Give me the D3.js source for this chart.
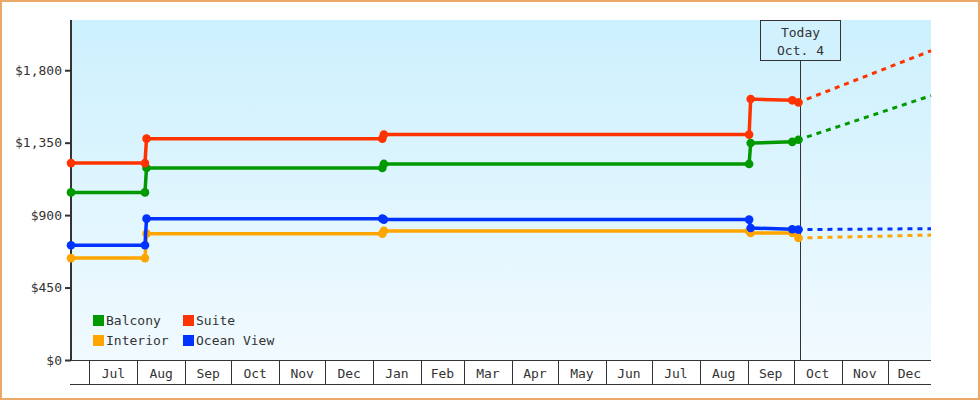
<!DOCTYPE html>
<html>
<head>
<meta charset="utf-8">
<script src="https://cdn.jsdelivr.net/npm/d3@7"></script>
<style>
  body { margin: 0; background: #fff; }
  svg text { font-family: "DejaVu Sans Mono", monospace; font-size: 13px; fill: #333; }
</style>
</head>
<body>
<div id="chart"></div>
<script>
var width = 980, height = 400;
var margin = {left: 71, right: 49, top: 20, bottom: 40};

var parse = d3.timeParse("%Y-%m-%d");

// price history dates (a step is two points one day apart)
var histDates = ["2018-06-19", "2018-08-06", "2018-08-07", "2019-01-07", "2019-01-08",
                 "2019-09-02", "2019-09-03", "2019-09-30", "2019-10-04"];
var balcony   = [1041, 1041, 1193, 1193, 1218, 1218, 1348, 1355, 1368];
var suite     = [1223, 1223, 1375, 1375, 1400, 1400, 1621, 1613, 1600];
var interior  = [ 633,  633,  785,  785,  802,  802,  789,  789,  758];
var oceanView = [ 713,  713,  878,  878,  872,  872,  820,  812,  810];

// forecast after today
var forecastDates = ["2019-10-04", "2019-12-29"];
var balconyFc   = [1368, 1642];
var suiteFc     = [1600, 1921];
var interiorFc  = [ 758,  776];
var oceanViewFc = [ 810,  816];

var seriesNames  = ["Balcony", "Interior", "Suite", "Ocean View"];
var seriesColors = ["#009900", "#ffa500", "#ff3300", "#0033ff"];
var histValues = [balcony, interior, suite, oceanView];
var fcValues = [balconyFc, interiorFc, suiteFc, oceanViewFc];

var legendOrder = ["Balcony", "Suite", "Interior", "Ocean View"];

var yTicks = [0, 450, 900, 1350, 1800];
var today = "2019-10-04";
var todayLabel = ["Today", "Oct. 4"];
var domainDates = ["2018-06-19", "2019-12-29"];

var svg = d3.select("#chart").append("svg")
    .attr("width", width)
    .attr("height", height);

svg.append("rect")
    .attr("x", 1).attr("y", 1)
    .attr("width", width - 2).attr("height", height - 2)
    .attr("fill", "#fff")
    .attr("stroke", "#eaa966")
    .attr("stroke-width", 2);

var plotW = width - margin.left - margin.right;
var plotH = height - margin.top - margin.bottom;

var x = d3.scaleTime()
    .domain(domainDates.map(parse))
    .range([margin.left, margin.left + plotW]);

var y = d3.scaleLinear()
    .domain([0, 2112])
    .range([margin.top + plotH, margin.top]);

var grad = svg.append("defs").append("linearGradient")
    .attr("id", "bg").attr("x1", 0).attr("y1", 0).attr("x2", 0).attr("y2", 1);
grad.append("stop").attr("offset", "0%").attr("stop-color", "#ccf0fd");
grad.append("stop").attr("offset", "100%").attr("stop-color", "#f1faff");

svg.append("rect")
    .attr("x", margin.left).attr("y", margin.top)
    .attr("width", plotW).attr("height", plotH)
    .attr("fill", "url(#bg)");

// month strip under the plot
var x0 = margin.left, x1 = margin.left + plotW;
var yTop = margin.top + plotH, yBot = yTop + 24;
var months = d3.timeMonth.range(d3.timeMonth.ceil(x.domain()[0]), x.domain()[1]);
var strip = svg.append("g");
strip.append("line").attr("x1", x0 - 1).attr("x2", x1).attr("y1", yTop + 0.5).attr("y2", yTop + 0.5)
    .attr("stroke", "#333");
strip.append("line").attr("x1", x0 - 1).attr("x2", x1).attr("y1", yBot + 0.5).attr("y2", yBot + 0.5)
    .attr("stroke", "#333");
months.forEach(function(m, i) {
    var xs = Math.round(x(m)) + 0.5;
    strip.append("line").attr("x1", xs).attr("x2", xs).attr("y1", yTop).attr("y2", yBot)
        .attr("stroke", "#333");
    var next = i < months.length - 1 ? x(months[i + 1]) : x1;
    strip.append("text")
        .attr("x", (x(m) + next) / 2)
        .attr("y", yTop + 18)
        .style("text-anchor", "middle")
        .text(d3.timeFormat("%b")(m));
});

// y axis
var yAxis = svg.append("g")
    .attr("transform", `translate(${margin.left}, 0)`)
    .call(d3.axisLeft(y).tickValues(yTicks).tickSize(6).tickPadding(3)
        .tickFormat(function(d) { return "$" + d3.format(",")(d); }));
yAxis.select(".domain").remove();
yAxis.selectAll(".tick line").attr("stroke", "#333").attr("stroke-width", 2);
yAxis.attr("font-family", null).attr("font-size", null);
svg.append("line")
    .attr("x1", margin.left).attr("x2", margin.left)
    .attr("y1", margin.top).attr("y2", yTop + 1)
    .attr("stroke", "#333").attr("stroke-width", 2);

// today marker
var tx = Math.round(x(parse(today))) + 2.5;
svg.append("line")
    .attr("x1", tx).attr("x2", tx)
    .attr("y1", 61).attr("y2", yTop)
    .attr("stroke", "#333");
svg.append("rect")
    .attr("x", tx - 40).attr("y", 20.5)
    .attr("width", 80).attr("height", 40)
    .attr("fill", "#d0f1fd").attr("stroke", "#333");
svg.append("text").attr("x", tx).attr("y", 37).style("text-anchor", "middle").text(todayLabel[0]);
svg.append("text").attr("x", tx).attr("y", 55).style("text-anchor", "middle").text(todayLabel[1]);

var line = d3.line()
    .x(function(d) { return x(d.date); })
    .y(function(d) { return y(d.value); });

seriesNames.forEach(function(name, i) {
    var hist = histDates.map(function(d, j) { return {date: parse(d), value: histValues[i][j]}; });
    var fc = forecastDates.map(function(d, j) { return {date: parse(d), value: fcValues[i][j]}; });
    var g = svg.append("g");
    g.append("path")
        .datum(fc)
        .attr("d", line)
        .attr("fill", "none")
        .attr("stroke", seriesColors[i])
        .attr("stroke-width", 3)
        .attr("stroke-dasharray", "5,5")
        .attr("stroke-dashoffset", -9);
    g.append("path")
        .datum(hist)
        .attr("d", line)
        .attr("fill", "none")
        .attr("stroke", seriesColors[i])
        .attr("stroke-width", 3.5);
    g.selectAll("circle")
        .data(hist)
        .enter()
        .append("circle")
        .attr("cx", function(d) { return x(d.date); })
        .attr("cy", function(d) { return y(d.value); })
        .attr("r", 4.3)
        .attr("fill", seriesColors[i]);
});

// legend
var legend = svg.append("g");
legendOrder.forEach(function(name, i) {
    var col = i % 2, row = Math.floor(i / 2);
    var lx = 93 + col * 90, ly = 315 + row * 20;
    legend.append("rect")
        .attr("x", lx).attr("y", ly)
        .attr("width", 11).attr("height", 11)
        .attr("fill", seriesColors[seriesNames.indexOf(name)]);
    legend.append("text")
        .attr("x", lx + 13)
        .attr("y", ly + 10)
        .text(name);
});
</script>
</body>
</html>
